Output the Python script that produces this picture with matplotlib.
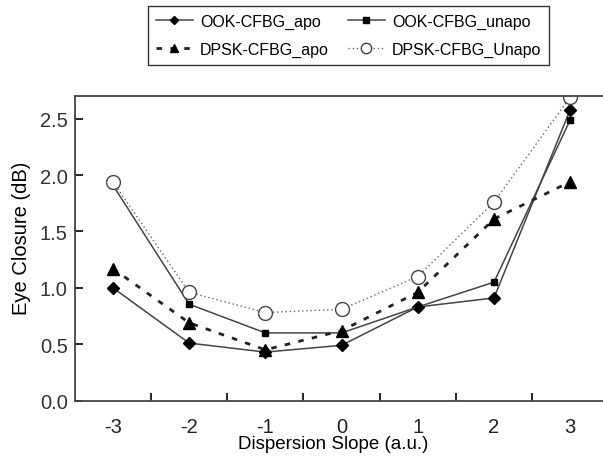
import numpy as np
from matplotlib import pyplot as plt

plt.rcParams['font.family'] = ['Liberation Sans', 'DejaVu Sans']

# data
slope = [-3, -2, -1, 0, 1, 2, 3]
ook_apo = [1.00, 0.51, 0.43, 0.49, 0.83, 0.91, 2.58]
ook_unapo = [1.91, 0.855, 0.60, 0.60, 0.83, 1.05, 2.49]
dpsk_apo = [1.17, 0.69, 0.45, 0.62, 0.96, 1.61, 1.94]
dpsk_unapo = [1.94, 0.96, 0.78, 0.81, 1.10, 1.76, 2.69]
labels = ['OOK-CFBG_apo', 'OOK-CFBG_unapo', 'DPSK-CFBG_apo', 'DPSK-CFBG_Unapo']

fig = plt.figure(figsize=(6.03, 4.6), dpi=100)
ax = fig.add_axes([0.124, 0.127, 0.876, 0.662])

lc = '#444444'
l1, = ax.plot(slope, ook_apo, '-', color=lc, lw=1.1, marker='D', ms=6,
              mfc='black', mec='black')
l2, = ax.plot(slope, ook_unapo, '-', color=lc, lw=1.1, marker='s', ms=5,
              mfc='black', mec='black')
l3, = ax.plot(slope, dpsk_apo, color='#222222', lw=2.0, ls=(0, (2, 3)),
              marker='^', ms=8, mfc='black', mec='black')
l4, = ax.plot(slope, dpsk_unapo, color='#666666', lw=1.0, ls=(0, (1, 2)),
              marker='o', ms=10, mfc='white', mec='#444444', mew=1.0)

ax.set_xlim(-3.5, 3.43)
ax.set_ylim(0, 2.7)
ax.set_xticks(np.arange(-2.5, 3.0, 1.0))
ax.set_xticklabels([])
ax.set_xticks(slope, minor=True)
ax.set_xticklabels([str(s) for s in slope], minor=True)
ax.tick_params(axis='x', which='major', direction='in', length=6, width=1.2)
ax.tick_params(axis='x', which='minor', length=0, pad=12, labelsize=14.5,
               labelcolor='#222222')
ax.set_yticks([0, 0.5, 1.0, 1.5, 2.0, 2.5])
ax.set_yticklabels(['0.0', '0.5', '1.0', '1.5', '2.0', '2.5'])
ax.tick_params(axis='y', direction='in', length=6, width=1.2, labelsize=14.5,
               labelcolor='#333333', pad=5)
ax.spines['right'].set_visible(False)
for s in ['left', 'top', 'bottom']:
    ax.spines[s].set_color('#444444')
    ax.spines[s].set_linewidth(1.3)

ax.set_xlabel('Dispersion Slope (a.u.)', fontsize=13.5)
ax.xaxis.set_label_coords(0.489, -0.112)
ax.set_ylabel('Eye Closure (dB)', fontsize=14.5)
ax.yaxis.set_label_coords(-0.082, 0.537)

leg = fig.legend([l1, l3, l2, l4], [labels[0], labels[2], labels[1], labels[3]],
                 ncol=2, loc='upper left', bbox_to_anchor=(0.2455, 0.985),
                 borderaxespad=0, fontsize=11.5, frameon=True, fancybox=False,
                 handlelength=2.3, markerscale=0.75, columnspacing=1.2,
                 borderpad=0.5, labelspacing=0.8, handletextpad=0.45)
leg.get_frame().set_edgecolor('black')
leg.get_frame().set_linewidth(1.0)

fig.savefig('out.png', dpi=100)
